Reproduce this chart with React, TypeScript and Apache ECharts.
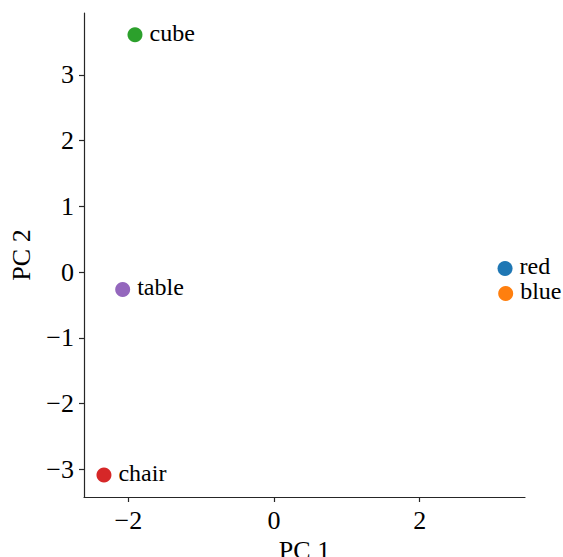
import React, { useEffect, useRef } from "react";
import * as echarts from "echarts";

const names = ["red", "blue", "cube", "chair", "table"];
const pc1 = [3.171, 3.18, -1.908, -2.334, -2.077];
const pc2 = [0.056, -0.324, 3.612, -3.085, -0.263];
const colors = ["#1f77b4", "#ff7f0e", "#2ca02c", "#d62728", "#9467bd"];
const xTicks = [-2, 0, 2];
const yTicks = [-3, -2, -1, 0, 1, 2, 3];

const FONT = "'Liberation Serif', 'Times New Roman', serif";
const fmt = (v: number) => String(v).replace("-", "\u2212");

export default function App() {
  const ref = useRef<HTMLDivElement>(null);
  useEffect(() => {
    const chart = echarts.init(ref.current!, undefined, { renderer: "svg" });
    const axisCommon = {
      type: "value" as const,
      splitLine: { show: false },
      axisLine: { show: true, onZero: false, lineStyle: { color: "#262626", width: 1.2 } },
      axisTick: { show: true, length: 5, inside: false, lineStyle: { color: "#262626", width: 1.2 } },
      nameTextStyle: { fontFamily: FONT, fontSize: 26, color: "#000" },
    };
    const labelCommon = {
      formatter: fmt,
      fontFamily: FONT,
      fontSize: 26,
      color: "#000",
      margin: 10,
    };
    chart.setOption({
      animation: false,
      grid: {
        left: 84,
        right: 38,
        top: 13,
        bottom: 60,
        containLabel: false,
        outerBoundsMode: "none",
      },
      xAxis: {
        ...axisCommon,
        min: -2.608,
        max: 3.445,
        name: "PC 1",
        nameLocation: "middle",
        nameGap: 33,
        axisTick: { ...axisCommon.axisTick, customValues: xTicks },
        axisLabel: { ...labelCommon, customValues: xTicks },
      },
      yAxis: {
        ...axisCommon,
        min: -3.42,
        max: 3.942,
        name: "PC 2",
        nameLocation: "middle",
        nameGap: 50,
        axisTick: { ...axisCommon.axisTick, customValues: yTicks },
        axisLabel: { ...labelCommon, customValues: yTicks },
      },
      series: [
        {
          type: "scatter",
          symbolSize: 15,
          data: names.map((n, i) => ({
            name: n,
            value: [pc1[i], pc2[i]],
            itemStyle: { color: colors[i], opacity: 1 },
          })),
          label: {
            show: true,
            position: "right",
            distance: 7,
            offset: [0, -2],
            formatter: "{b}",
            fontFamily: FONT,
            fontSize: 24,
            color: "#000",
          },
        },
      ],
    });
    return () => chart.dispose();
  }, []);
  return (
    <div
      ref={ref}
      style={{ position: "absolute", left: 0, top: 0, width: 563, height: 557 }}
    />
  );
}
